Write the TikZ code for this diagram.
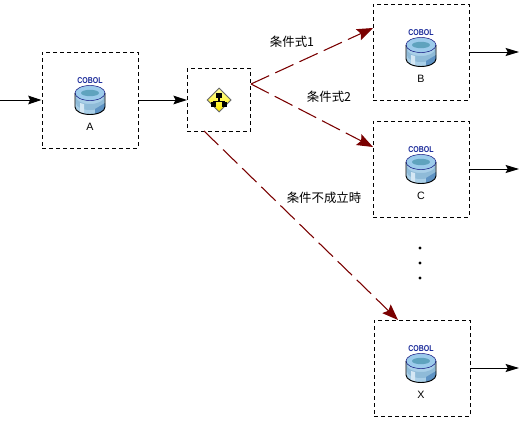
\documentclass[tikz,border=0pt]{standalone}
\usepackage{fontspec}
\setmainfont{Liberation Sans}
\newfontfamily\cjk{Noto Sans CJK JP}
\usetikzlibrary{arrows.meta,shapes.geometric}
\definecolor{dred}{HTML}{7A0000}
\definecolor{cobolblue}{HTML}{1A2A9A}
\definecolor{dbtop}{HTML}{9CCBEB}
\definecolor{dbin}{HTML}{5FA3BE}
\definecolor{dbside}{HTML}{5E93C4}
\definecolor{dbband}{HTML}{A9CFE8}
\definecolor{dbdither}{HTML}{8FBBD8}
\tikzset{
  x=0.75pt,y=-0.75pt,
  stagebox/.style={draw=black,line width=0.75pt,dash pattern=on 3pt off 2.25pt,minimum width=72pt,minimum height=72pt,inner sep=0pt},
  switchbox/.style={stagebox,minimum width=47.5pt,minimum height=47pt},
  flow/.style={draw=black,line width=0.75pt,-{Stealth[length=10pt,width=6.5pt,inset=1.5pt]}},
  plainflow/.style={draw=black,line width=0.75pt,-{Stealth[length=10pt,width=6pt,inset=1.5pt]}},
  cond/.style={draw=dred,line width=0.8pt,dash pattern=on 15pt off 5pt,-{Stealth[length=12pt,width=9pt,inset=2pt]}},
  clabel/.style={font=\cjk\fontsize{9.3}{10}\selectfont,inner sep=0pt},
  nlabel/.style={font=\fontsize{8}{9}\selectfont,inner sep=0pt},
  cobol/.style={font=\bfseries\fontsize{6.4}{7}\selectfont,text=cobolblue,inner sep=0pt,xscale=0.82},
  vdot/.style={circle,fill=black,inner sep=0pt,minimum size=2.6pt},
}
\newcommand{\dbicon}[1]{%
  \begin{scope}[shift={#1}]
    \fill[dbband] (-15,-7) -- (-15,7) arc[x radius=15,y radius=7.5,start angle=180,end angle=0] -- (15,-7) -- cycle;
    \fill[dbdither] (-14,-3) arc[x radius=14,y radius=7,start angle=180,end angle=0] -- (14,3) arc[x radius=14,y radius=7,start angle=0,end angle=180] -- cycle;
    \fill[dbside] (5,9) -- (15,3) -- (15,7) arc[x radius=15,y radius=7.5,start angle=0,end angle=70] -- cycle;
    \fill[white!50!dbband] (-10,3) -- (-6,4) -- (-6,13) -- (-10,12) -- cycle;
    \fill[dbtop] (0,-7) ellipse[x radius=15,y radius=7.5];
    \fill[dbin] (0,-7) ellipse[x radius=9,y radius=3.2];
    \draw[black,line width=0.7pt] (-15,-7) -- (-15,7) arc[x radius=15,y radius=7.5,start angle=180,end angle=0] -- (15,-7);
    \draw[blue!45!black,line width=0.35pt] (0,-7) ellipse[x radius=15,y radius=7.5];
  \end{scope}}
\begin{document}
\begin{tikzpicture}
\useasboundingbox (0,0) rectangle (519,421);
\fill[white] (0,0) rectangle (519,421);
\node[stagebox] (a) at (90,100) {};
\node[switchbox] (d) at (219,100) {};
\node[stagebox] (b) at (421,52) {};
\node[stagebox] (c) at (421,169) {};
\node[stagebox] (x) at (422,368) {};
\dbicon{(90,100)}
\dbicon{(421,52)}
\dbicon{(421,169)}
\dbicon{(421,368)}
\node[cobol] (ca) at (90,81) {COBOL};
\node[cobol] (cb) at (421,33) {COBOL};
\node[cobol] (cc) at (421,150) {COBOL};
\node[cobol] (cx) at (421,349) {COBOL};
\node[nlabel] (la) at (90,127) {A};
\node[nlabel] (lb) at (421,79) {B};
\node[nlabel] (lc) at (421,196) {C};
\node[nlabel] (lx) at (421,395) {X};
% switch icon
\fill[black!60] (219,87.5) -- (231.5,100) -- (219,112.5) -- (206.5,100) -- cycle;
\shade[top color=yellow!40!white,bottom color=yellow!85!orange] (219,89) -- (230,100) -- (219,111) -- (208,100) -- cycle;
\fill[black] (216,93) rectangle (222,98);
\fill[black] (218.3,98) rectangle (219.7,101);
\fill[black] (213,100.5) rectangle (225,102);
\fill[black] (211,102) rectangle (216,107);
\fill[black] (222,102) rectangle (227,107);
% connectors
\coordinate (in) at (0,100);
\coordinate (bo) at (519,52);
\coordinate (co) at (519,169);
\coordinate (xo) at (519,368);
\coordinate (ds) at (251,84);
\coordinate (dx) at (204,131);
\coordinate (bi) at (373,28);
\coordinate (ci) at (373,147);
\coordinate (xi) at (398,320);
\draw[flow] (in) -- (a.west);
\draw[flow] (a.east) -- (d.west);
\draw[plainflow] (b.east) -- (bo);
\draw[plainflow] (c.east) -- (co);
\draw[plainflow] (x.east) -- (xo);
\draw[cond] (ds) -- (bi);
\draw[cond] (ds) -- (ci);
\draw[cond] (dx) -- (xi);
\node[clabel] (t1) at (292,42) {条件式1};
\node[clabel] (t2) at (329,97) {条件式2};
\node[clabel] (t3) at (324,198) {条件不成立時};
\node[vdot] (v1) at (420,248) {};
\node[vdot] (v2) at (420,263) {};
\node[vdot] (v3) at (420,278) {};
\end{tikzpicture}
\end{document}
